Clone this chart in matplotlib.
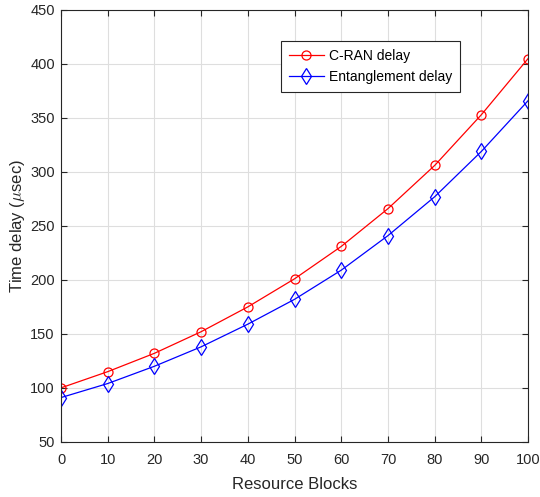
import matplotlib
matplotlib.use('Agg')
import matplotlib.pyplot as plt
from matplotlib.ticker import MultipleLocator

plt.rcParams['font.family'] = ['Liberation Sans', 'DejaVu Sans']
plt.rcParams['mathtext.fontset'] = 'cm'

rb = [0, 10, 20, 30, 40, 50, 60, 70, 80, 90, 100]
cran_delay = [100, 115, 132, 152, 175, 201, 231, 266, 306, 353, 405]
ent_delay = [91, 104, 120, 138, 159, 182, 209, 241, 277, 319, 366]

font = 10.5
dark = '#262626'

fig = plt.figure(figsize=(5.4, 4.97), dpi=100)
ax = fig.add_axes([0.113, 0.111, 0.865, 0.869])

ax.plot(rb, cran_delay, color='red', lw=0.9, marker='o', ms=6.5, mfc='none', mec='red', mew=0.9, label='C-RAN delay')
ax.plot(rb, ent_delay, color='blue', lw=0.9, marker='d', ms=8, mfc='none', mec='blue', mew=0.9, label='Entanglement delay')

ax.axis([0, 100, 50, 450])
ax.xaxis.set_major_locator(MultipleLocator(10))
ax.yaxis.set_major_locator(MultipleLocator(50))
ax.grid(True, color='#dedede', lw=0.8)
ax.set_axisbelow(True)
ax.tick_params(axis='both', direction='in', top=True, right=True, labelsize=font, colors=dark, length=4, width=0.8)
ax.tick_params(axis='x', pad=8)
ax.tick_params(axis='y', pad=4.5)
for s in ax.spines.values():
    s.set_color(dark)
    s.set_linewidth(0.8)

ax.set_xlabel('Resource Blocks', fontsize=12, color=dark, labelpad=7)
ax.set_ylabel(r'Time delay ($\mu$sec)', fontsize=12, color=dark, labelpad=2)

leg = ax.legend(loc='upper left', bbox_to_anchor=(0.472, 0.928), fontsize=10, fancybox=False,
                edgecolor=dark, framealpha=1, handlelength=2.5, borderpad=0.55, labelspacing=0.55,
                handletextpad=0.35, borderaxespad=0)
leg.get_frame().set_linewidth(0.8)

fig.savefig('out.png', dpi=100)
